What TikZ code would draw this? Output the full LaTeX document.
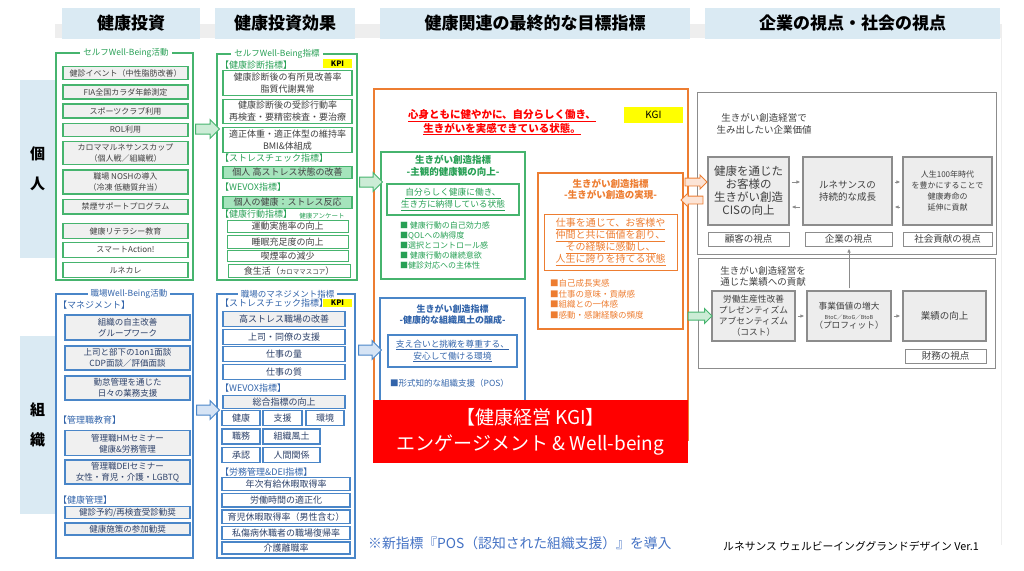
\documentclass[tikz,border=0pt]{standalone}
\usepackage{fontspec}
\setmainfont{Noto Sans CJK JP}
\usetikzlibrary{shapes.arrows,arrows.meta}

\definecolor{hdrblue}{RGB}{218,234,243}
\definecolor{bandgray}{RGB}{238,238,238}
\definecolor{grn}{RGB}{70,180,110}
\definecolor{grnlt}{RGB}{204,236,214}
\definecolor{mint}{RGB}{165,228,188}
\definecolor{grntxt}{RGB}{40,160,85}
\definecolor{blu}{RGB}{74,134,200}
\definecolor{blult}{RGB}{214,228,245}
\definecolor{blutxt}{RGB}{50,100,170}
\definecolor{org}{RGB}{237,125,49}
\definecolor{orglt}{RGB}{252,228,214}
\definecolor{ltgray}{RGB}{240,240,240}
\definecolor{boxgray}{RGB}{237,237,237}
\definecolor{graybd}{RGB}{140,140,140}
\definecolor{txtgray}{RGB}{64,64,64}
\definecolor{txtnavy}{RGB}{45,65,105}
\definecolor{kpiyel}{RGB}{255,255,0}
\definecolor{kgired}{RGB}{255,0,0}
\definecolor{notebl}{RGB}{68,114,196}

\newcommand{\fsz}[2]{\fontsize{#1}{#2}\selectfont}

\tikzset{
  hdr/.style={fill=hdrblue, minimum height=31pt, inner sep=0pt, font=\fsz{17}{20}\bfseries},
  side/.style={fill=hdrblue, minimum width=35pt, minimum height=178pt, inner sep=0pt, align=center, font=\fsz{15}{30}\bfseries},
  frame/.style={line width=1.5pt, inner sep=0pt},
  ftitle/.style={fill=white, inner xsep=3pt, inner ysep=1pt, font=\fsz{8.5}{10}},
  gbox/.style={draw=grn, line width=1.2pt, fill=ltgray, inner sep=0pt, align=center, text=txtgray, font=\fsz{8}{11}, minimum width=125pt},
  bbox/.style={draw=blu, line width=1.2pt, fill=ltgray, inner sep=0pt, align=center, text=txtnavy, font=\fsz{8.5}{11}, minimum width=125pt},
  gibox/.style={draw=grn, line width=1.2pt, fill=white, inner sep=0pt, align=center, text=txtgray, font=\fsz{9}{11.5}, minimum width=129pt},
  wibox/.style={draw=blu, line width=1.2pt, fill=white, inner sep=0pt, align=center, text=txtnavy, font=\fsz{9}{11}, minimum height=15pt},
  ghead/.style={anchor=west, inner sep=0pt, text=grntxt, font=\fsz{9}{11}},
  bhead/.style={anchor=west, inner sep=0pt, text=blutxt, font=\fsz{9}{11}},
  kpi/.style={fill=kpiyel, inner sep=0pt, minimum width=29pt, minimum height=9pt, font=\fsz{7.5}{8}\bfseries},
  cbox/.style={draw=graybd, line width=1.2pt, fill=boxgray, inner sep=0pt, align=center, text=txtgray, minimum height=68pt},
  vlabel/.style={draw=graybd, line width=1pt, fill=white, inner sep=0pt, text=txtgray, minimum height=14pt, font=\fsz{9.5}{11}},
  garr/.style={single arrow, draw=grn, fill=grnlt, line width=1pt, inner sep=4.5pt, single arrow head extend=4.5pt, minimum height=24pt},
  barr/.style={single arrow, draw=blu, fill=blult, line width=1pt, inner sep=4.5pt, single arrow head extend=4.5pt, minimum height=24pt},
  oarr/.style={single arrow, draw=org, fill=orglt, line width=0.8pt, inner sep=3.5pt, single arrow head extend=3pt, minimum height=22pt},
  tarr/.style={draw=graybd, line width=0.8pt, -{Latex[length=4pt,width=3.5pt]}, shorten <=2pt, shorten >=2pt}
}

\begin{document}
\begin{tikzpicture}[x=1pt,y=-1pt]

	\useasboundingbox (0,0) rectangle (1024,570);
	\fill[bandgray] (55,24) rectangle (1002,38);
	\draw[bandgray, line width=1pt] (1001,24) -- (1001,545);

	% headers
	\node[hdr, minimum width=138pt] (hinv) at (131,23) {健康投資};
	\node[hdr, minimum width=140pt] (heff) at (285,23) {健康投資効果};
	\node[hdr, minimum width=310pt] (hgoal) at (535,23) {健康関連の最終的な目標指標};
	\node[hdr, minimum width=295pt] (hview) at (852.5,23) {企業の視点・社会の視点};

	\node[side] (indiv) at (37.5,169) {個\\人};
	\node[side] (orgn) at (37.5,425) {組\\織};

	% self well-being activities
	\node[frame, draw=grn, minimum width=137pt, minimum height=227pt] (selfact) at (124.5,166.5) {};
	\node[ftitle, text=grntxt] (selfactt) at (126,53) {セルフWell-Being活動};
	\node[gbox, minimum height=12.7pt] (sa1) at (125.5,73) {健診イベント（中性脂肪改善）};
	\node[gbox, minimum height=14pt] (sa2) at (125.5,92) {FIA全国カラダ年齢測定};
	\node[gbox, minimum height=14pt] (sa3) at (125.5,111) {スポーツクラブ利用};
	\node[gbox, minimum height=13pt] (sa4) at (125.5,130) {ROL利用};
	\node[gbox, minimum height=23pt] (sa5) at (125.5,153.3) {カロママルネサンスカップ\\（個人戦／組織戦）};
	\node[gbox, minimum height=24pt] (sa6) at (125.5,182) {職場 NOSHの導入\\（冷凍 低糖質弁当）};
	\node[gbox, minimum height=14.7pt] (sa7) at (125.5,206.7) {禁煙サポートプログラム};
	\node[gbox, minimum height=15pt] (sa8) at (125.5,231) {健康リテラシー教育};
	\node[gbox, fill=white, minimum height=14.7pt] (sa9) at (125.5,250) {スマートAction!};
	\node[gbox, fill=white, minimum height=14.7pt] (sa10) at (125.5,270) {ルネカレ};

	% workplace well-being activities
	\node[frame, draw=blu, minimum width=137pt, minimum height=264pt] (workact) at (124.5,426) {};
	\node[ftitle, text=blutxt] (workactt) at (129,294) {職場Well-Being活動};
	\node[bhead] (bh1) at (58,305) {【マネジメント】};
	\node[bbox, minimum height=25pt] (wm1) at (127.5,327.5) {組織の自主改善\\グループワーク};
	\node[bbox, minimum height=24pt] (wm2) at (127.5,358) {上司と部下の1on1面談\\CDP面談／評価面談};
	\node[bbox, minimum height=24pt] (wm3) at (127.5,388) {勤怠管理を通じた\\日々の業務支援};
	\node[bhead] (bh2) at (58,420) {【管理職教育】};
	\node[bbox, minimum height=25pt] (wm4) at (127.5,443.3) {管理職HMセミナー\\健康\&労務管理};
	\node[bbox, minimum height=24pt] (wm5) at (127.5,472) {管理職DEIセミナー\\女性・育児・介護・LGBTQ};
	\node[bhead] (bh3) at (58,500) {【健康管理】};
	\node[bbox, minimum height=12pt] (wm6) at (127.5,512.5) {健診予約/再検査受診勧奨};
	\node[bbox, minimum height=12pt] (wm7) at (127.5,529) {健康施策の参加勧奨};

	% self well-being indicators
	\node[frame, draw=grn, minimum width=140pt, minimum height=226pt] (selfidx) at (287,167) {};
	\node[ftitle, text=grntxt] (selfidxt) at (277,54) {セルフWell-Being指標};
	\node[kpi] (kpi1) at (337.5,63.5) {KPI};
	\node[ghead] (gh1) at (220,65) {【健康診断指標】};
	\node[gibox, minimum height=25pt] (si1) at (287.5,83.3) {健康診断後の有所見改善率\\脂質代謝異常};
	\node[gibox, minimum height=24pt] (si2) at (287.5,111.3) {健康診断後の受診行動率\\再検査・要精密検査・要治療};
	\node[gibox, minimum height=25pt] (si3) at (287.5,140) {適正体重・適正体型の維持率\\BMI\&体組成};
	\node[ghead] (gh2) at (220,158) {【ストレスチェック指標】};
	\node[gibox, fill=mint, minimum height=12pt] (si4) at (287.5,172.5) {個人 高ストレス状態の改善};
	\node[ghead] (gh3) at (220,187) {【WEVOX指標】};
	\node[gibox, fill=mint, minimum height=12pt] (si5) at (287.5,202.5) {個人の健康：ストレス反応};
	\node[ghead] (gh4) at (220,214) {【健康行動指標】};
	\node[inner sep=0pt, text=grntxt, font=\fsz{6.5}{8}] (gh5) at (322,216) {健康アンケート};
	\node[gibox, line width=0.8pt, minimum width=121pt, minimum height=12.7pt] (si6) at (287.5,226.3) {運動実施率の向上};
	\node[gibox, line width=0.8pt, minimum width=121pt, minimum height=12.3pt] (si7) at (287.5,242) {睡眠充足度の向上};
	\node[gibox, line width=0.8pt, minimum width=121pt, minimum height=11pt] (si8) at (287.5,256) {喫煙率の減少};
	\node[gibox, line width=0.8pt, minimum width=122pt, minimum height=13pt] (si9) at (289,270.7) {食生活（{\fsz{6.5}{8}カロママスコア}）};

	% workplace management indicators
	\node[frame, draw=blu, minimum width=138pt, minimum height=264pt] (workidx) at (286,426) {};
	\node[ftitle, text=blutxt] (workidxt) at (287.5,294) {職場のマネジメント指標};
	\node[bhead] (bh4) at (220,303) {【ストレスチェック指標】};
	\node[kpi, minimum height=8pt] (kpi2) at (337.5,303) {KPI};
	\node[wibox, fill=ltgray, minimum width=122pt] (wi1) at (284,319) {高ストレス職場の改善};
	\node[wibox, minimum width=122pt] (wi2) at (284,337) {上司・同僚の支援};
	\node[wibox, minimum width=122pt] (wi3) at (284,354) {仕事の量};
	\node[wibox, minimum width=122pt] (wi4) at (284,372) {仕事の質};
	\node[bhead] (bh5) at (220,388) {【WEVOX指標】};
	\node[wibox, fill=ltgray, minimum width=122pt, minimum height=13pt] (wi5) at (284,401.7) {総合指標の向上};
	\node[wibox, minimum width=38pt] (wv1) at (241,418.3) {健康};
	\node[wibox, minimum width=39pt] (wv2) at (282.5,418.3) {支援};
	\node[wibox, minimum width=38pt] (wv3) at (325,418.3) {環境};
	\node[wibox, minimum width=38pt] (wv4) at (241,436.5) {職務};
	\node[wibox, minimum width=57pt] (wv5) at (291.5,436.5) {組織風土};
	\node[wibox, minimum width=38pt] (wv6) at (241,455) {承認};
	\node[wibox, minimum width=57pt] (wv7) at (291.5,455) {人間関係};
	\node[bhead] (bh6) at (220,472) {【労務管理\&DEI指標】};
	\node[wibox, minimum width=128pt, minimum height=13.3pt] (wl1) at (286,484) {年次有給休暇取得率};
	\node[wibox, minimum width=128pt, minimum height=13.3pt] (wl2) at (286,500.3) {労働時間の適正化};
	\node[wibox, minimum width=128pt, minimum height=13.3pt] (wl3) at (286,516.7) {育児休暇取得率（男性含む）};
	\node[wibox, minimum width=128pt, minimum height=13.3pt] (wl4) at (286,533) {私傷病休職者の職場復帰率};
	\node[wibox, minimum width=128pt, minimum height=12pt] (wl5) at (286,548) {介護離職率};

	% final goal indicators
	\node[frame, draw=org, line width=1.2pt, minimum width=314pt, minimum height=351pt] (goalfr) at (531,264.5) {};
	\node[align=center, text=kgired, font=\fsz{10.5}{12}\bfseries] (goal) at (502,122.5) {\underline{心身ともに健やかに、自分らしく働き、}\\\underline{生きがいを実感できている状態。}};
	\node[fill=kpiyel, inner sep=0pt, minimum width=59pt, minimum height=16pt, font=\fsz{10}{12}] (kgi) at (653.5,115) {KGI};

	\node[frame, draw=grn, minimum width=144pt, minimum height=127pt] (gview) at (453,215.5) {};
	\node[align=center, text=grntxt, font=\fsz{9.5}{12}\bfseries] (gviewt) at (453,166) {生きがい創造指標\\-主観的健康観の向上-};
	\node[draw=grn, line width=1.2pt, inner sep=0pt, minimum width=132pt, minimum height=31pt, align=center, text=grntxt, font=\fsz{8.7}{12}] (gstate) at (453,199.5) {\underline{自分らしく健康に働き、}\\\underline{生き方に納得している状態}};
	\node[anchor=north west, inner sep=0pt, align=left, text=grntxt, font=\fsz{8}{9.8}] (gitems) at (400,222) {■ 健康行動の自己効力感\\■QOLへの納得度\\■選択とコントロール感\\■ 健康行動の継続意欲\\■健診対応への主体性};

	\node[frame, draw=org, line width=1.2pt, minimum width=145pt, minimum height=156pt] (oview) at (610.5,251) {};
	\node[align=center, text=org, font=\fsz{9.5}{11}\bfseries] (oviewt) at (610.5,189) {生きがい創造指標\\-生きがい創造の実現-};
	\node[draw=org, line width=1pt, inner sep=0pt, minimum width=133pt, minimum height=56pt, align=center, text=org, font=\fsz{10}{12}] (ostate) at (610.5,242) {\underline{仕事を通じて、お客様や}\\\underline{仲間と共に価値を創り、}\\\underline{その経験に感動し、}\\\underline{人生に誇りを持てる状態}};
	\node[anchor=north west, inner sep=0pt, align=left, text=org, font=\fsz{8.5}{10.7}] (oitems) at (550,279) {■自己成長実感\\■仕事の意味・貢献感\\■組織との一体感\\■感動・感謝経験の頻度};

	\node[frame, draw=blu, minimum width=145pt, minimum height=104pt] (bview) at (452.5,350) {};
	\node[align=center, text=blutxt, font=\fsz{9}{11}\bfseries] (bviewt) at (452.5,314.5) {生きがい創造指標\\-健康的な組織風土の醸成-};
	\node[draw=blu, line width=1.2pt, inner sep=0pt, minimum width=129pt, minimum height=32pt, align=center, text=blutxt, font=\fsz{8.7}{12}] (bstate) at (452.5,351) {\underline{支え合いと挑戦を尊重する、}\\\underline{安心して働ける環境}};
	\node[anchor=west, inner sep=0pt, text=blutxt, font=\fsz{8.5}{10}] (bitems) at (390,383) {■形式知的な組織支援（POS）};

	\node[fill=kgired, inner sep=0pt, minimum width=315pt, minimum height=63pt, align=center, text=white, font=\fsz{19}{26}] (kgibox) at (530.5,431.5) {【健康経営 KGI】\\エンゲージメント \& Well-being};

	% corporate value
	\node[frame, draw=graybd, line width=1pt, minimum width=299pt, minimum height=162pt] (valfr) at (846.5,173) {};
	\node[align=center, text=txtgray, font=\fsz{9.5}{12}] (valt) at (764,124) {生きがい創造経営で\\生み出したい企業価値};
	\node[cbox, minimum width=81pt, font=\fsz{11.5}{13}] (ca) at (748.5,191) {健康を通じた\\お客様の\\生きがい創造\\CISの向上};
	\node[cbox, minimum width=89pt, font=\fsz{9.5}{12}] (cb) at (847.5,191) {ルネサンスの\\持続的な成長};
	\node[cbox, minimum width=89pt, font=\fsz{8}{10.7}] (cc) at (947.5,191) {人生100年時代\\を豊かにすることで\\健康寿命の\\延伸に貢献};
	\node[vlabel, minimum width=81pt] (lcust) at (748.5,239) {顧客の視点};
	\node[vlabel, minimum width=87pt] (lcorp) at (848.5,239) {企業の視点};
	\node[vlabel, minimum width=89pt] (lsoc) at (947.5,239) {社会貢献の視点};

	% business performance
	\node[frame, draw=graybd, line width=1pt, minimum width=297pt, minimum height=110pt] (perffr) at (846.5,313) {};
	\node[align=center, text=txtgray, font=\fsz{9.5}{11.5}] (perft) at (763,276.5) {生きがい創造経営を\\通じた業績への貢献};
	\node[cbox, minimum width=83pt, minimum height=50pt, font=\fsz{8.7}{10.9}] (bd) at (753.5,316) {労働生産性改善\\プレゼンティズム\\アブセンティズム\\（コスト）};
	\node[cbox, minimum width=84pt, minimum height=50pt, font=\fsz{8.7}{9.3}] (be) at (849,316) {事業価値の増大\\{\fsz{5.5}{7}BtoC／BtoG／BtoB}\\（プロフィット）};
	\node[cbox, minimum width=83pt, minimum height=50pt, font=\fsz{9.5}{11}] (bf) at (944.5,316) {業績の向上};
	\node[vlabel, minimum width=81pt] (lfin) at (945.5,356) {財務の視点};

	% block arrows
	\node[garr] (ga1) at (205,129) {};
	\node[garr, minimum height=23pt] (ga2) at (368.5,182) {};
	\node[barr, minimum height=23pt] (ba1) at (205.5,410) {};
	\node[barr, minimum height=23pt] (ba2) at (367.5,350) {};
	\node[oarr] (oa1) at (694,182) {};
	\node[oarr, shape border rotate=180] (oa2) at (694,200) {};
	\node[garr, inner sep=3.5pt, single arrow head extend=3.5pt] (ga3) at (698,316) {};

	\draw ([yshift=9pt]ca.east) edge[tarr] ([yshift=9pt]cb.west)
	([yshift=-16pt]cb.west) edge[tarr] ([yshift=-16pt]ca.east)
	([yshift=9pt]cb.east) edge[tarr] ([yshift=9pt]cc.west)
	([yshift=-16pt]cc.west) edge[tarr] ([yshift=-16pt]cb.east)
	(bd) edge[tarr] (be)
	(be) edge[tarr] (bf)
	(be.north) edge[tarr] (be.north |- lcorp.south);

	% notes
	\node[anchor=west, inner sep=0pt, text=notebl, font=\fsz{13.8}{15}] (note) at (368,543) {※新指標『POS（認知された組織支援）』を導入};
	\node[anchor=west, inner sep=0pt, text=black, font=\fsz{10.8}{12}] (ver) at (723,546) {ルネサンス ウェルビーインググランドデザイン Ver.1};

\end{tikzpicture}
\end{document}
